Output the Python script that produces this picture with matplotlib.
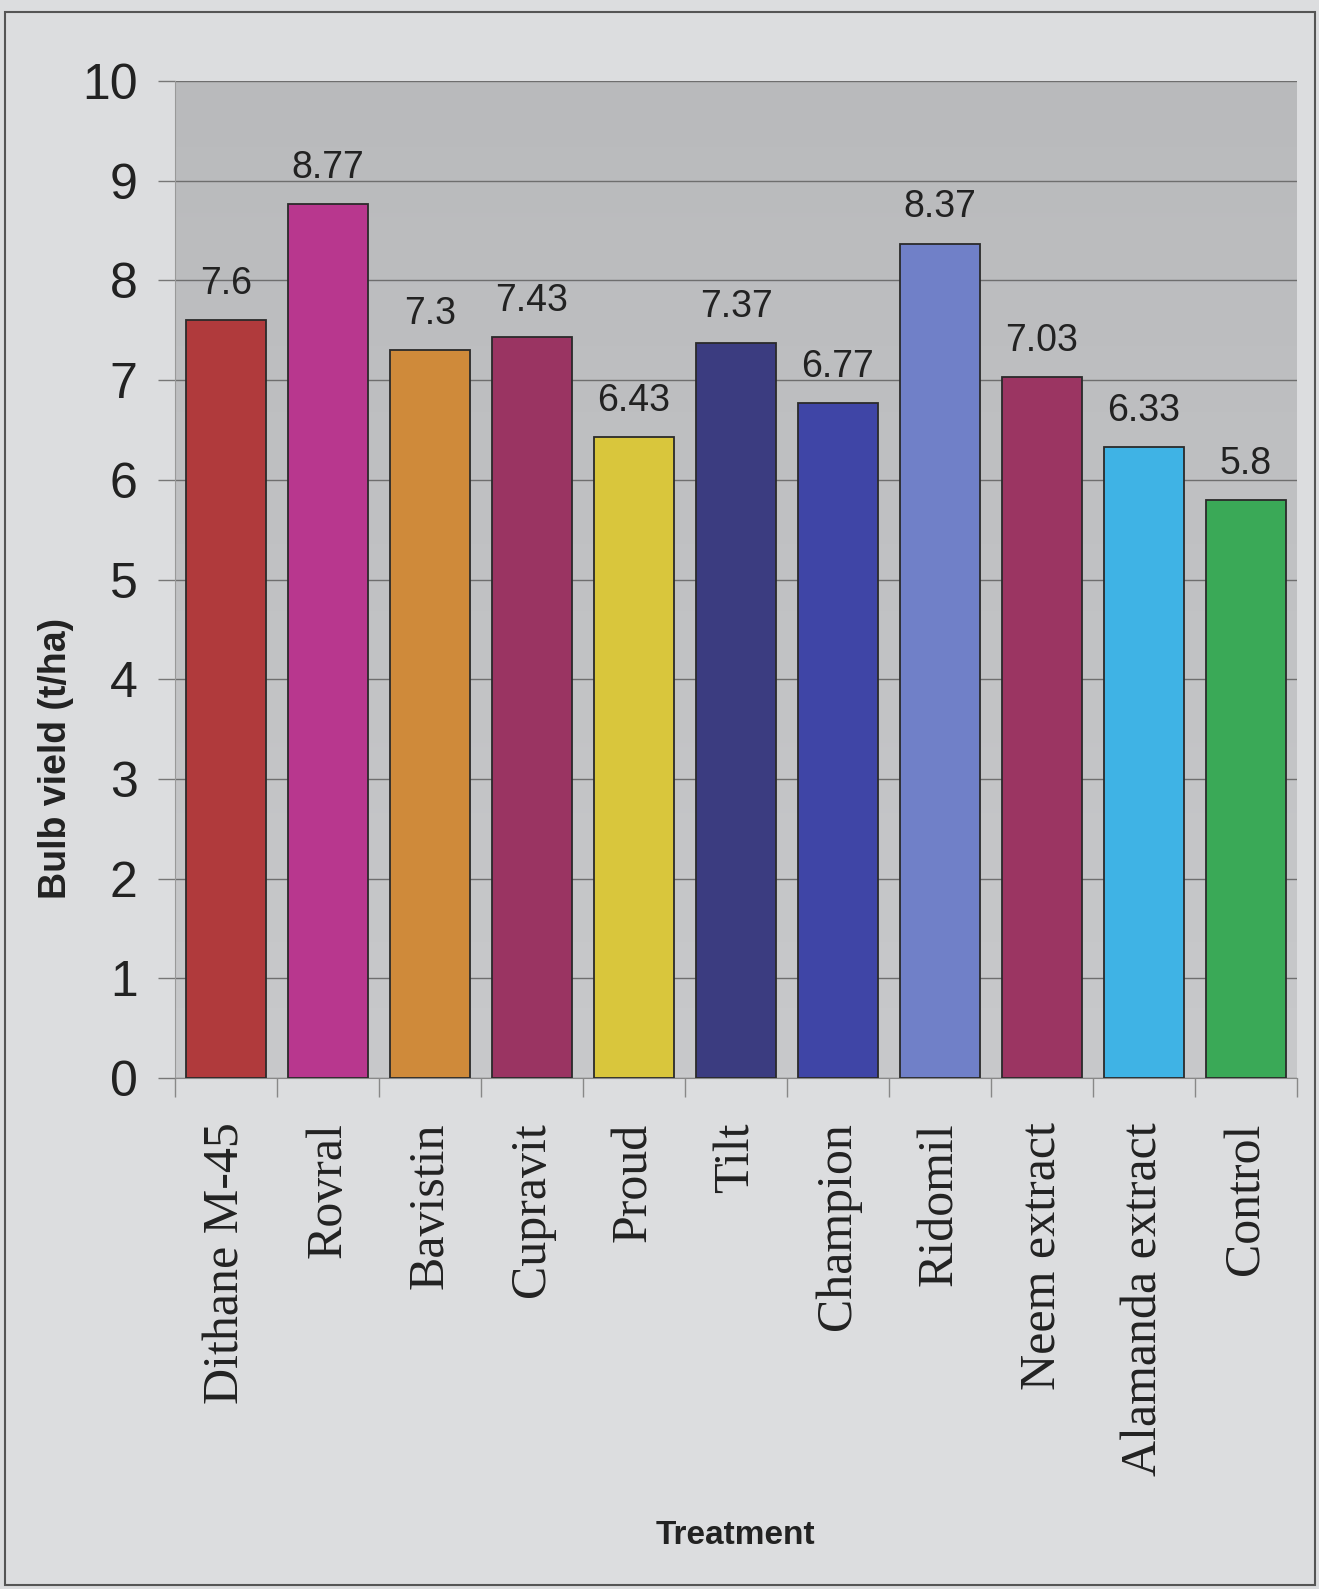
import numpy as np
import matplotlib.pyplot as plt
from matplotlib.patches import Rectangle

# Bulb yield by treatment
treatments = ['Dithane M-45', 'Rovral', 'Bavistin', 'Cupravit', 'Proud', 'Tilt',
              'Champion', 'Ridomil', 'Neem extract', 'Alamanda extract', 'Control']
yield_tha = [7.6, 8.77, 7.3, 7.43, 6.43, 7.37, 6.77, 8.37, 7.03, 6.33, 5.8]
value_labels = ['7.6', '8.77', '7.3', '7.43', '6.43', '7.37', '6.77', '8.37', '7.03', '6.33', '5.8']
bar_colors = ['#b03a3c', '#b8378e', '#cf8a3a', '#9a3462', '#d9c63c', '#3b3c80',
              '#3f45a6', '#7080c8', '#9b3562', '#3fb3e5', '#3aa957']

sans = ['Liberation Sans', 'DejaVu Sans']
serif = ['Liberation Serif', 'DejaVu Serif']

fig = plt.figure(figsize=(13.19, 15.89), dpi=100, facecolor='#dcdddf')
ax = fig.add_axes([0.1327, 0.3216, 0.8506, 0.6274])

# outer frame
fig.patches.append(Rectangle((5 / 1319, 4 / 1589), 1310 / 1319, 1573 / 1589,
                             transform=fig.transFigure, fill=False,
                             edgecolor='#555555', linewidth=1.5))

# plot area gradient
grad = np.linspace(0, 1, 256).reshape(-1, 1)
ax.imshow(grad, extent=(-0.5, 10.5, 0, 10), aspect='auto', origin='lower',
          cmap=plt.matplotlib.colors.LinearSegmentedColormap.from_list('g', ['#c8c9cb', '#b9babc']),
          zorder=0)

x = np.arange(len(treatments))
bars = ax.bar(x, yield_tha, width=0.78, color=bar_colors, edgecolor='#2a2a2a',
              linewidth=1.3, zorder=3)

for xi, v, lab in zip(x, yield_tha, value_labels):
    ax.annotate(lab, (xi, v), xytext=(0, 13), textcoords='offset points',
                ha='center', va='bottom', fontsize=27, family=sans, color='#222222')

ax.set_xlim(-0.5, 10.5)
ax.set_ylim(0, 10)
ax.set_yticks(range(0, 11))
ax.set_yticklabels([str(i) for i in range(0, 11)], family=sans, fontsize=36, color='#222222')
ax.grid(axis='y', color='#6e6e6e', linewidth=1.0, zorder=1)
ax.set_axisbelow(True)

ax.set_xticks(x)
ax.set_xticklabels(treatments, rotation=90, family=serif, fontsize=36, color='#222222')
ax.set_xticks(np.arange(-0.5, 11, 1), minor=True)
ax.tick_params(axis='x', which='major', length=0, pad=32)
ax.tick_params(axis='x', which='minor', length=14, color='#888888', width=1)
ax.tick_params(axis='y', length=12, color='#777777', width=1, pad=15)

for s in ['top', 'right']:
    ax.spines[s].set_visible(False)
ax.spines['left'].set_color('#999999')
ax.spines['bottom'].set_color('#888888')

fig.text(56 / 1319, 1 - 758 / 1589, 'Bulb vield (t/ha)', rotation=90, ha='center', va='center',
         fontsize=27, fontweight='bold', family=sans, color='#222222')
fig.text(735 / 1319, 1 - 1536 / 1589, 'Treatment', ha='center', va='center',
         fontsize=24, fontweight='bold', family=sans, color='#222222')

fig.savefig('out.png', dpi=100, facecolor=fig.get_facecolor())
